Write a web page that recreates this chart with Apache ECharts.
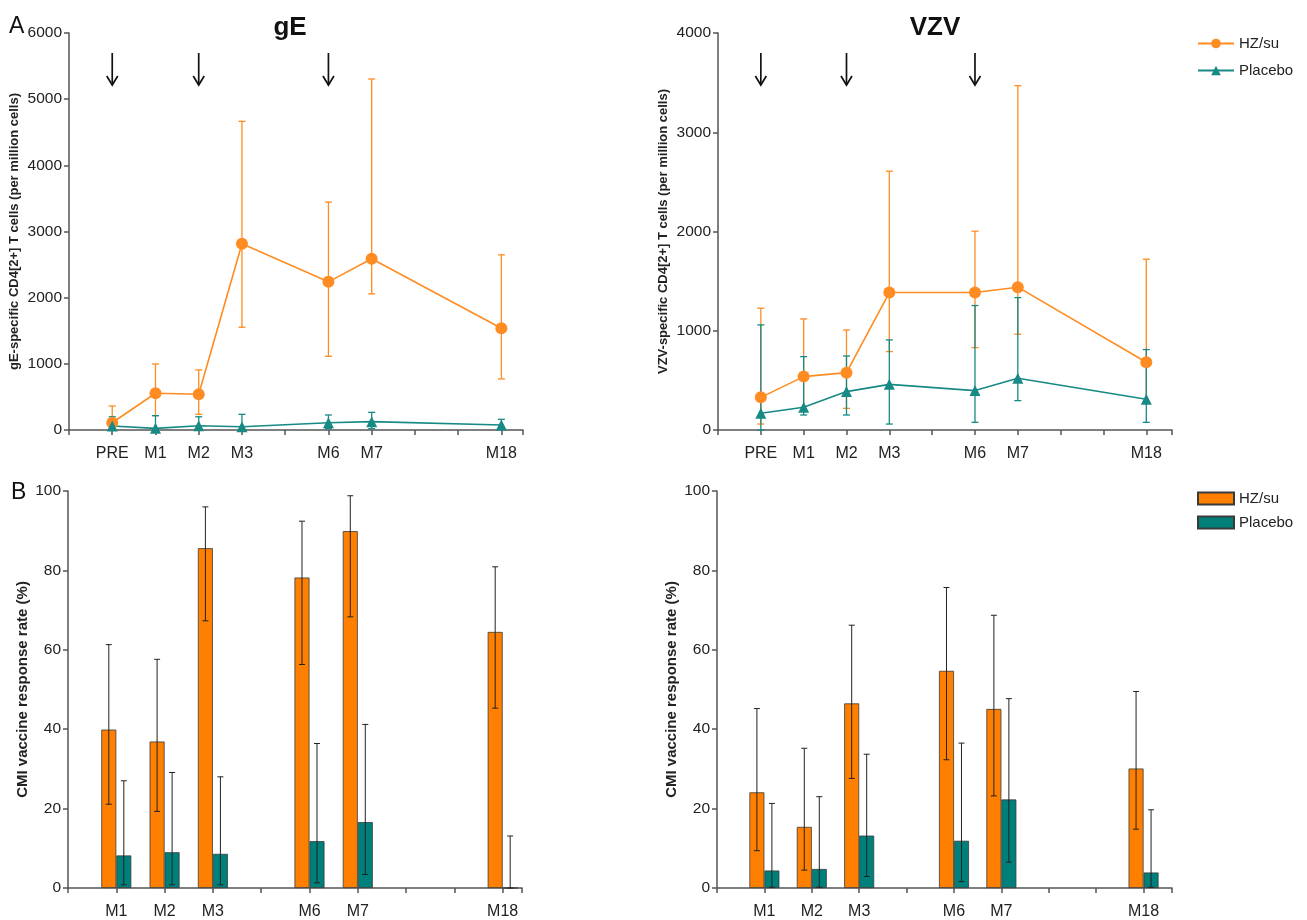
<!DOCTYPE html>
<html><head><meta charset="utf-8">
<script src="https://cdn.jsdelivr.net/npm/echarts@6/dist/echarts.min.js"></script>
<style>html,body{margin:0;padding:0;background:#fff}#c{width:1307px;height:920px}</style>
</head><body><div id="c"></div>
<script>
// ---- axis categories / tick labels ----
const timeLabels = ['PRE','M1','M2','M3','','M6','M7','','','M18'];
const lineTimes  = ['PRE','M1','M2','M3','M6','M7','M18'];
const doseTimes  = ['PRE','M2','M6'];
const barLabels  = ['M1','M2','M3','','M6','M7','','','M18'];
const barTimes   = ['M1','M2','M3','M6','M7','M18'];

// ---- Panel A: gE (frequency per million cells) ----
const gE_hz     = [110, 555, 540, 2814, 2239, 2587, 1538];
const gE_hz_lo  = [20, 217, 237, 1553, 1114, 2057, 772];
const gE_hz_hi  = [363, 998, 908, 4665, 3444, 5305, 2647];
const gE_pl     = [60, 25, 65, 50, 110, 126, 75];
const gE_pl_lo  = [0, 0, 0, 0, 20, 20, 10];
const gE_pl_hi  = [200, 217, 200, 237, 227, 267, 161];

// ---- Panel A: VZV ----
const vzv_hz    = [329, 538, 578, 1385, 1385, 1439, 682];
const vzv_hz_lo = [60, 195, 218, 790, 830, 965, 269];
const vzv_hz_hi = [1227, 1119, 1008, 2608, 2003, 3469, 1721];
const vzv_pl    = [168, 229, 387, 460, 397, 521, 309];
const vzv_pl_lo = [0, 151, 151, 60, 77, 296, 77];
const vzv_pl_hi = [1059, 739, 746, 908, 1254, 1334, 810];

// ---- Panel B: response rates (%) ----
const rgE_hz    = [39.9, 36.9, 85.6, 78.2, 89.9, 64.5];
const rgE_hz_lo = [21.1, 19.3, 67.3, 56.3, 68.3, 45.3];
const rgE_hz_hi = [61.3, 57.6, 96.0, 92.4, 98.8, 80.9];
const rgE_pl    = [8.2, 9.0, 8.6, 11.8, 16.6, 0];
const rgE_pl_lo = [0.8, 0.8, 0.8, 1.3, 3.4, 0];
const rgE_pl_hi = [27.0, 29.1, 28.0, 36.4, 41.2, 13.1];

const rV_hz     = [24.1, 15.4, 46.5, 54.7, 45.1, 30.1];
const rV_hz_lo  = [9.4, 4.5, 27.6, 32.3, 23.2, 14.8];
const rV_hz_hi  = [45.2, 35.2, 66.2, 75.7, 68.7, 49.5];
const rV_pl     = [4.4, 4.8, 13.2, 11.9, 22.3, 3.9];
const rV_pl_lo  = [0.2, 0.2, 2.9, 1.6, 6.5, 0.2];
const rV_pl_hi  = [21.3, 23.0, 33.7, 36.5, 47.7, 19.7];

// ---- styles ----
const ORANGE_L = '#FF8C22', TEAL_L = '#178A85';
const ORANGE_B = '#FF8000', TEAL_B = '#00807A';
const AXIS_C = '#555';
const TXT = '#222';
const FONT = '"Liberation Sans",Arial,sans-serif';

const tIdx = t => timeLabels.indexOf(t);
const bIdx = t => barLabels.indexOf(t);

function pts(times, idxFn, vals) { return times.map((t,i)=>[idxFn(t), vals[i]]); }
function errs(times, idxFn, lo, hi) { return times.map((t,i)=>[idxFn(t), lo[i], hi[i]]); }

function errRender(capHalf, color, width, dx) {
  return function(params, api) {
    const x = api.value(0), lo = api.value(1), hi = api.value(2);
    const pLo = api.coord([x, lo]), pHi = api.coord([x, hi]);
    const px = pLo[0] + dx;
    const st = {stroke: color, lineWidth: width};
    return {type:'group', children:[
      {type:'line', shape:{x1:px,y1:pLo[1],x2:px,y2:pHi[1]}, style:st},
      {type:'line', shape:{x1:px-capHalf,y1:pHi[1],x2:px+capHalf,y2:pHi[1]}, style:st},
      {type:'line', shape:{x1:px-capHalf,y1:pLo[1],x2:px+capHalf,y2:pLo[1]}, style:st}
    ]};
  };
}
function arrowRender(params, api) {
  const p = api.coord([api.value(0), 0]);
  const top = params.coordSys.y;
  const y1 = top + 20, y2 = top + 52;
  const st = {stroke:'#111', lineWidth:1.7, fill:null};
  return {type:'group', children:[
    {type:'line', shape:{x1:p[0],y1:y1,x2:p[0],y2:y2}, style:st},
    {type:'polyline', shape:{points:[[p[0]-5.5,y2-9],[p[0],y2],[p[0]+5.5,y2-9]]}, style:st}
  ]};
}

const grids = [
  {left: 69,  top: 33,  width: 454, height: 397},
  {left: 718, top: 33,  width: 454, height: 397},
  {left: 68,  top: 491, width: 454, height: 397},
  {left: 717, top: 491, width: 455, height: 397}
];

function xAxisLine(gi, labels, max) {
  return {
    type:'value', gridIndex: gi, min:-1, max:max, interval:1,
    axisLine:{show:true, onZero:false, lineStyle:{color:AXIS_C, width:1.5}},
    axisTick:{show:true, length:5, lineStyle:{color:AXIS_C, width:1.5}},
    splitLine:{show:false},
    axisLabel:{color:TXT, fontFamily:FONT, fontSize:16, margin:16,
      formatter: v => (Number.isInteger(v) && v >= 0 && labels[v]) ? labels[v] : '',
      showMinLabel:true, showMaxLabel:true, hideOverlap:false}
  };
}
function yAxis(gi, max, interval, name, nameGap, nameSize) {
  return {
    type:'value', gridIndex: gi, min:0, max:max, interval:interval,
    name: name, nameLocation:'middle', nameGap:nameGap, nameRotate:90,
    nameTextStyle:{color:TXT, fontFamily:FONT, fontWeight:'bold', fontSize:nameSize},
    axisLine:{show:true, onZero:false, lineStyle:{color:AXIS_C, width:1.5}},
    axisTick:{show:true, length:5, lineStyle:{color:AXIS_C, width:1.5}},
    splitLine:{show:false},
    axisLabel:{color:TXT, fontFamily:FONT, fontSize:15.5, margin:7, formatter: v => String(v)}
  };
}

const series = [];
function addLinePanel(gi, hz, hzlo, hzhi, pl, pllo, plhi) {
  series.push({type:'custom', name:'errHZ'+gi, xAxisIndex:gi, yAxisIndex:gi, z:2, silent:true,
    renderItem: errRender(3.5, ORANGE_L, 1.3, 0), data: errs(lineTimes, tIdx, hzlo, hzhi)});
  series.push({type:'custom', name:'errPL'+gi, xAxisIndex:gi, yAxisIndex:gi, z:2, silent:true,
    renderItem: errRender(3.5, TEAL_L, 1.3, 0), data: errs(lineTimes, tIdx, pllo, plhi)});
  series.push({type:'line', name:'HZ/su', xAxisIndex:gi, yAxisIndex:gi, z:3,
    symbol:'circle', symbolSize:12, lineStyle:{color:ORANGE_L, width:1.6},
    itemStyle:{color:ORANGE_L}, data: pts(lineTimes, tIdx, hz)});
  series.push({type:'line', name:'Placebo', xAxisIndex:gi, yAxisIndex:gi, z:3,
    symbol:'triangle', symbolSize:11, lineStyle:{color:TEAL_L, width:1.6},
    itemStyle:{color:TEAL_L}, data: pts(lineTimes, tIdx, pl)});
  series.push({type:'custom', name:'arrows'+gi, xAxisIndex:gi, yAxisIndex:gi, z:4, silent:true,
    renderItem: arrowRender, data: doseTimes.map(t=>[tIdx(t), 0])});
}
function addBarPanel(gi, hz, hzlo, hzhi, pl, pllo, plhi) {
  series.push({type:'bar', name:'HZ/su ', xAxisIndex:gi, yAxisIndex:gi, barWidth:15, barGap:'0%',
    itemStyle:{color:ORANGE_B, borderColor:'#3a3a3a', borderWidth:0.8}, data: pts(barTimes, bIdx, hz)});
  series.push({type:'bar', name:'Placebo ', xAxisIndex:gi, yAxisIndex:gi, barWidth:15, barGap:'0%',
    itemStyle:{color:TEAL_B, borderColor:'#3a3a3a', borderWidth:0.8}, data: pts(barTimes, bIdx, pl)});
  series.push({type:'custom', name:'errBH'+gi, xAxisIndex:gi, yAxisIndex:gi, z:5, silent:true,
    renderItem: errRender(3, '#222', 1, -7.5), data: errs(barTimes, bIdx, hzlo, hzhi)});
  series.push({type:'custom', name:'errBP'+gi, xAxisIndex:gi, yAxisIndex:gi, z:5, silent:true,
    renderItem: errRender(3, '#222', 1, 7.5), data: errs(barTimes, bIdx, pllo, plhi)});
}
addLinePanel(0, gE_hz, gE_hz_lo, gE_hz_hi, gE_pl, gE_pl_lo, gE_pl_hi);
addLinePanel(1, vzv_hz, vzv_hz_lo, vzv_hz_hi, vzv_pl, vzv_pl_lo, vzv_pl_hi);
addBarPanel(2, rgE_hz, rgE_hz_lo, rgE_hz_hi, rgE_pl, rgE_pl_lo, rgE_pl_hi);
addBarPanel(3, rV_hz, rV_hz_lo, rV_hz_hi, rV_pl, rV_pl_lo, rV_pl_hi);

const option = {
  backgroundColor:'#fff',
  animation:false,
  title:[
    {text:'gE', left:285, top:10, textAlign:'center', textStyle:{fontFamily:FONT, fontWeight:'bold', fontSize:26, color:'#111'}},
    {text:'VZV', left:930, top:10, textAlign:'center', textStyle:{fontFamily:FONT, fontWeight:'bold', fontSize:26, color:'#111'}},
    {text:'A', left:4, top:10, textStyle:{fontFamily:FONT, fontWeight:'normal', fontSize:23, color:'#111'}},
    {text:'B', left:6, top:476, textStyle:{fontFamily:FONT, fontWeight:'normal', fontSize:23, color:'#111'}}
  ],
  legend:[
    {data:['HZ/su','Placebo'], orient:'vertical', left:1192, top:31, itemWidth:36, itemHeight:12, itemGap:12,
     textStyle:{fontFamily:FONT, fontSize:15, color:TXT}, selectedMode:false},
    {data:['HZ/su ','Placebo '], orient:'vertical', left:1192, top:486, itemWidth:36, itemHeight:12, itemGap:9,
     icon:'rect', textStyle:{fontFamily:FONT, fontSize:15, color:TXT}, selectedMode:false,
     formatter: n => n.trim()}
  ],
  grid: grids,
  xAxis:[xAxisLine(0, timeLabels, 9.5), xAxisLine(1, timeLabels, 9.6), xAxisLine(2, barLabels, 8.4), xAxisLine(3, barLabels, 8.6)],
  yAxis:[
    yAxis(0, 6000, 1000, 'gE-specific CD4[2+] T cells (per million cells)', 48, 13),
    yAxis(1, 4000, 1000, 'VZV-specific CD4[2+] T cells (per million cells)', 48, 13),
    yAxis(2, 100, 20, 'CMI vaccine response rate (%)', 38, 15),
    yAxis(3, 100, 20, 'CMI vaccine response rate (%)', 38, 15)
  ],
  series: series
};
const chart = echarts.init(document.getElementById('c'), null, {renderer:'canvas'});
chart.setOption(option);
</script></body></html>
